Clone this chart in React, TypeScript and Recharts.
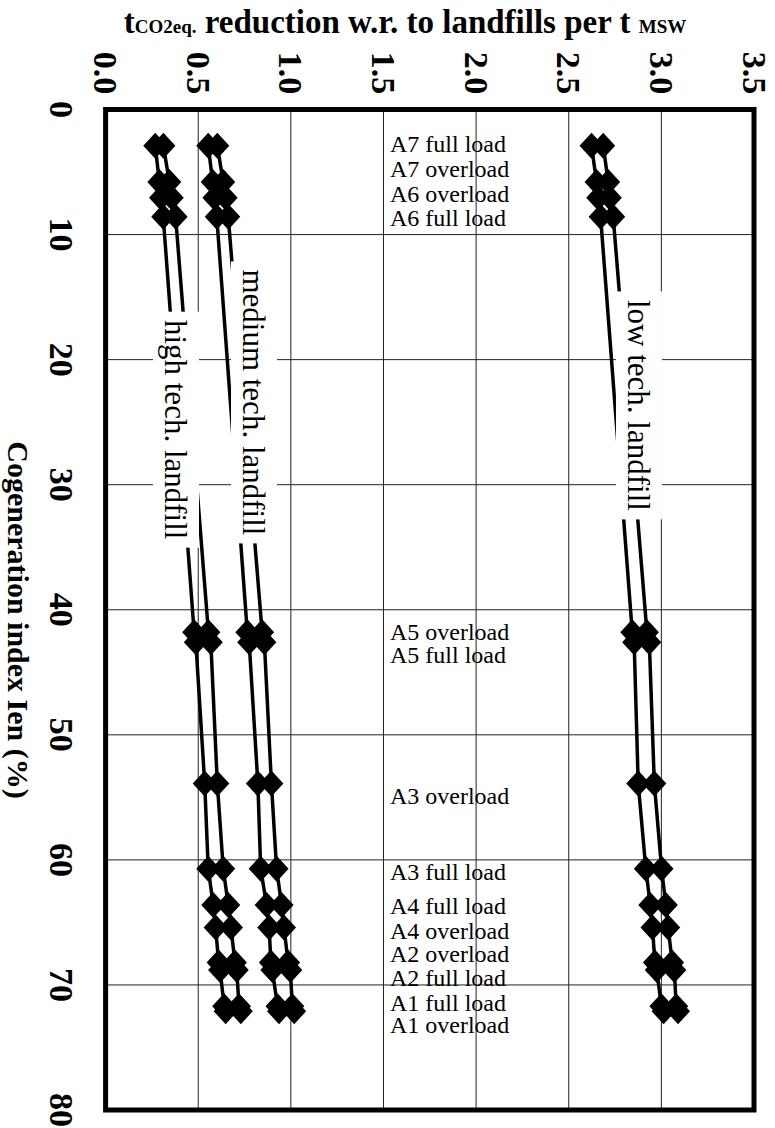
import React from 'react';
import { LineChart, Line, XAxis, YAxis, CartesianGrid, ReferenceArea, ReferenceDot } from 'recharts';

// Cogeneration index Ien (%) of each operating case
const ien = [2.9, 5.8, 7.06, 8.58, 41.8, 42.6, 53.9, 60.7, 63.6, 65.4, 68.2, 68.8, 71.7, 72.1];
// tCO2eq reduction w.r. to landfills per t MSW (two estimates per case)
const highA = [0.268, 0.29, 0.299, 0.311, 0.478, 0.487, 0.535, 0.554, 0.581, 0.594, 0.61, 0.618, 0.64, 0.648];
const highB = [0.312, 0.344, 0.357, 0.378, 0.555, 0.568, 0.603, 0.635, 0.662, 0.677, 0.698, 0.708, 0.72, 0.73];
const medA = [0.554, 0.578, 0.587, 0.6, 0.765, 0.775, 0.822, 0.837, 0.869, 0.883, 0.892, 0.9, 0.928, 0.936];
const medB = [0.603, 0.635, 0.648, 0.662, 0.845, 0.857, 0.895, 0.923, 0.95, 0.963, 0.985, 0.997, 1.008, 1.018];
const lowA = [2.623, 2.65, 2.659, 2.672, 2.843, 2.853, 2.875, 2.916, 2.94, 2.952, 2.965, 2.975, 3.0, 3.012];
const lowB = [2.686, 2.713, 2.722, 2.74, 2.922, 2.935, 2.962, 3.001, 3.024, 3.037, 3.058, 3.07, 3.08, 3.09];

const xTicks = [0, 0.5, 1, 1.5, 2, 2.5, 3, 3.5];
const yTicks = [0, 10, 20, 30, 40, 50, 60, 70, 80];

const caseLabels = [
  'A7 full load', 'A7 overload', 'A6 overload', 'A6 full load',
  'A5 overload', 'A5 full load', 'A3 overload', 'A3 full load',
  'A4 full load', 'A4 overload', 'A2 overload', 'A2 full load',
  'A1 full load', 'A1 overload',
];
const caseLabelIen = [3.37, 5.36, 7.36, 9.3, 42.42, 44.25, 55.5, 61.63, 64.29, 66.34, 68.14, 70.06, 72.08, 73.86];
const caseLabelX = 1.535;

const techLabels = ['low tech. landfill', 'medium tech. landfill', 'high tech. landfill'];
const techLabelX = [2.879, 0.801, 0.38];
const techLabelIen = [23.66, 23.42, 25.6];
const techBoxLen = [228, 282, 236];

const data = ien.map((v, i) => ({
  ien: v,
  highA: highA[i], highB: highB[i],
  medA: medA[i], medB: medB[i],
  lowA: lowA[i], lowB: lowB[i],
}));

const FONT = '"Liberation Serif", "Times New Roman", serif';

const Diamond = (props: any) => {
  const { cx, cy } = props;
  if (cx == null || cy == null) return null;
  const w = 12, h = 13;
  return <polygon points={`${cx - w},${cy} ${cx},${cy - h} ${cx + w},${cy} ${cx},${cy + h}`} fill="#000" stroke="none" />;
};

const XTick = (props: any) => {
  const { x, payload } = props;
  return (
    <text transform={`translate(${x},73) rotate(90)`} textAnchor="middle" dominantBaseline="central"
      fontFamily={FONT} fontWeight="bold" fontSize={34} fill="#000">
      {Number(payload.value).toFixed(1)}
    </text>
  );
};

const YTick = (props: any) => {
  const { y, payload } = props;
  return (
    <text transform={`translate(61,${y}) rotate(90)`} textAnchor="middle" dominantBaseline="central"
      fontFamily={FONT} fontWeight="bold" fontSize={34} fill="#000">
      {payload.value}
    </text>
  );
};

const TitleContent = () => (
  <text x={405} y={33} textAnchor="middle" fontFamily={FONT} fontWeight="bold" fill="#000">
    <tspan fontSize={33}>t</tspan>
    <tspan fontSize={19}>CO2eq.</tspan>
    <tspan fontSize={33}> reduction w.r. to landfills per t </tspan>
    <tspan fontSize={19}>MSW</tspan>
  </text>
);

const YLabelContent = () => (
  <text transform="translate(18,620) rotate(90)" textAnchor="middle" dominantBaseline="central"
    fontFamily={FONT} fontWeight="bold" fontSize={30} fill="#000">
    Cogeneration index Ien (%)
  </text>
);

const makeCaseLabel = (text: string) => (p: any) => (
  <text x={p.cx} y={p.cy} fontFamily={FONT} fontSize={24} fill="#000">{text}</text>
);

const makeTechLabel = (text: string, len: number) => (p: any) => (
  <g transform={`translate(${p.cx},${p.cy}) rotate(90)`}>
    <rect x={-len / 2} y={-23} width={len} height={46} fill="#fff" />
    <text x={0} y={0} textAnchor="middle" dominantBaseline="central" fontFamily={FONT} fontSize={31} fill="#000">{text}</text>
  </g>
);

const series = ['highA', 'highB', 'medA', 'medB', 'lowA', 'lowB'];

export default function App() {
  return (
    <div style={{ position: 'absolute', left: 0, top: 0, width: 775, height: 1128, background: '#fff' }}>
      <LineChart width={775} height={1128} data={data} layout="vertical"
        margin={{ top: 0, right: 21, bottom: 18, left: 0 }}>
        <CartesianGrid stroke="#222" strokeWidth={1} />
        <XAxis type="number" orientation="top" domain={[0, 3.5]} ticks={xTicks}
          height={109.5} tickLine={false} axisLine={false} tick={<XTick />} interval={0}
          label={{ content: TitleContent } as any} />
        <YAxis type="number" dataKey="ien" domain={[0, 80]} ticks={yTicks}
          width={105.6} tickLine={false} axisLine={false} tick={<YTick />} interval={0}
          label={{ content: YLabelContent } as any} />
        {series.map((k) => (
          <Line key={k} dataKey={k} type="linear" stroke="#000" strokeWidth={3.5}
            dot={<Diamond />} activeDot={false} isAnimationActive={false} />
        ))}
        {techLabels.map((t, i) => (
          <ReferenceDot key={t} x={techLabelX[i]} y={techLabelIen[i]} r={0}
            shape={makeTechLabel(t, techBoxLen[i])} ifOverflow="visible" />
        ))}
        {caseLabels.map((t, i) => (
          <ReferenceDot key={t} x={caseLabelX} y={caseLabelIen[i]} r={0}
            shape={makeCaseLabel(t)} ifOverflow="visible" />
        ))}
        <ReferenceArea x1={0} x2={3.5} y1={0} y2={80} fill="none" fillOpacity={0}
          stroke="#000" strokeWidth={5} ifOverflow="visible" />
      </LineChart>
    </div>
  );
}
